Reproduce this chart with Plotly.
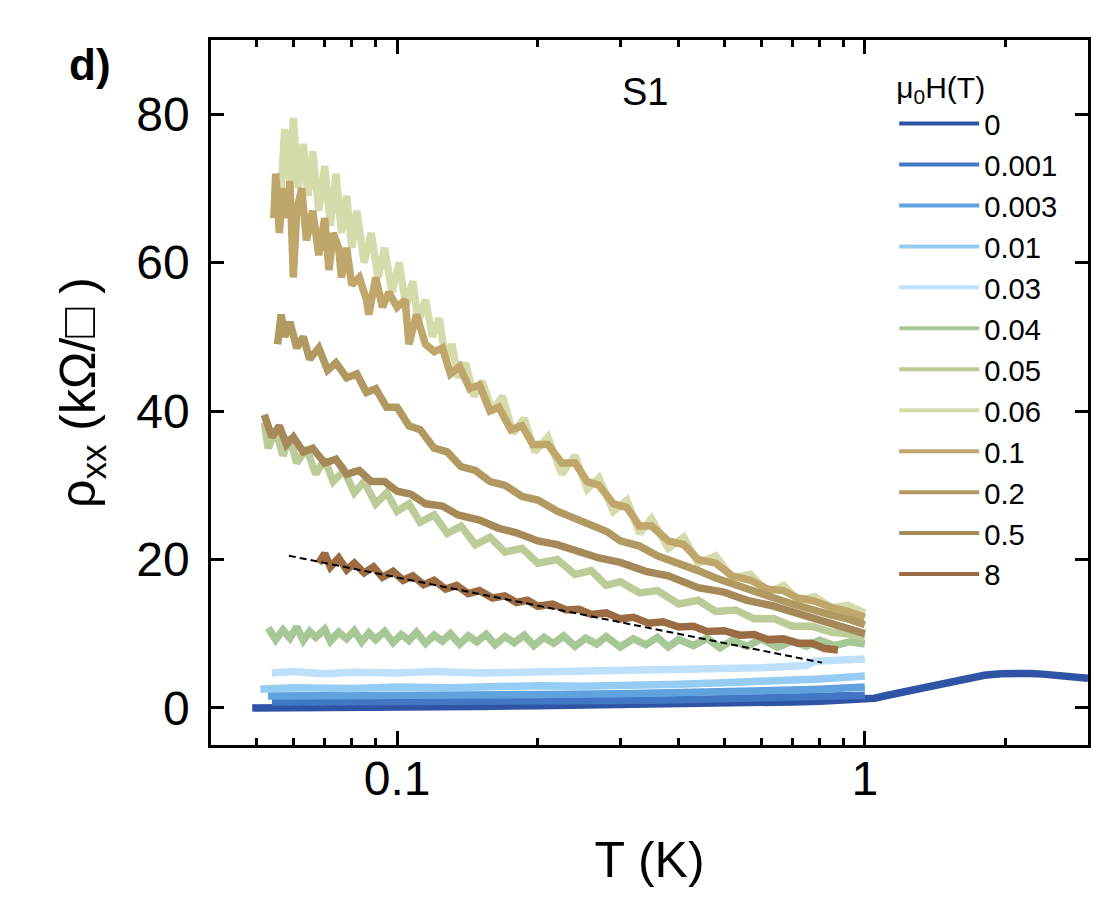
import numpy as np
import plotly.graph_objects as go

# field values (legend) and colours
fields = ["0", "0.001", "0.003", "0.01", "0.03", "0.04", "0.05", "0.06", "0.1", "0.2", "0.5", "8"]
colors = ["#2f54a5", "#4277c5", "#5fa2de", "#94ccf4", "#bfe0fb", "#a8c796",
          "#bccc98", "#d6dbab", "#bfa76b", "#b09a62", "#a58958", "#9b6b44"]

# temperature (K) and rho_xx (kOhm/sq)
T_0 = [0.049, 0.06, 0.08, 0.1, 0.15, 0.2, 0.3, 0.4, 0.5, 0.6, 0.7, 0.8, 0.9, 1.0,
       1.05, 1.1, 1.2, 1.3, 1.4, 1.5, 1.65, 1.8, 1.95, 2.1, 2.25, 2.4, 2.6, 2.8, 3.0]
rho_0 = [0.0, 0.0, 0.05, 0.1, 0.2, 0.3, 0.4, 0.5, 0.6, 0.7, 0.8, 0.9, 1.0, 1.1,
         1.3, 1.6, 2.1, 2.6, 3.1, 3.5, 4.0, 4.4, 4.6, 4.7, 4.65, 4.55, 4.4, 4.2, 4.0]

T_0001 = [0.054, 0.07, 0.1, 0.15, 0.2, 0.3, 0.4, 0.5, 0.6, 0.7, 0.8, 0.9, 1.0]
rho_0001 = [0.8, 0.8, 0.8, 0.85, 0.9, 1.0, 1.1, 1.2, 1.3, 1.4, 1.5, 1.6, 1.7]

T_0003 = [0.053, 0.07, 0.1, 0.15, 0.2, 0.3, 0.4, 0.5, 0.6, 0.7, 0.8, 0.9, 1.0]
rho_0003 = [1.6, 1.6, 1.7, 1.7, 1.8, 1.9, 2.0, 2.2, 2.3, 2.4, 2.5, 2.6, 2.8]

T_001 = [0.051, 0.06, 0.08, 0.1, 0.13, 0.17, 0.2, 0.25, 0.3, 0.4, 0.5, 0.6, 0.7, 0.8, 0.9, 1.0]
rho_001 = [2.5, 2.7, 2.6, 2.8, 2.7, 2.9, 3.0, 2.9, 3.1, 3.2, 3.4, 3.5, 3.7, 3.9, 4.1, 4.3]

T_003 = [0.054, 0.06, 0.07, 0.08, 0.1, 0.12, 0.15, 0.2, 0.25, 0.3, 0.4, 0.5, 0.6,
         0.7, 0.75, 0.78, 0.85, 0.9, 1.0]
rho_003 = [4.7, 4.9, 4.6, 4.8, 4.7, 4.9, 4.7, 4.8, 4.9, 5.0, 5.1, 5.3, 5.4,
           5.6, 5.7, 6.3, 6.4, 6.5, 6.6]

T_004 = [0.053, 0.055, 0.057, 0.059, 0.061, 0.063, 0.065, 0.067, 0.07, 0.072,
         0.075, 0.078, 0.081, 0.084, 0.087, 0.09, 0.094, 0.098, 0.102, 0.106,
         0.11, 0.115, 0.12, 0.125, 0.13, 0.136, 0.142, 0.148, 0.155, 0.162,
         0.17, 0.178, 0.187, 0.196, 0.206, 0.216, 0.227, 0.24, 0.253, 0.267,
         0.28, 0.3, 0.32, 0.34, 0.36, 0.38, 0.4, 0.43, 0.46, 0.49,
         0.52, 0.56, 0.6, 0.65, 0.7, 0.75, 0.8, 0.86, 0.93, 1.0]
rho_004 = [10.8, 9.2, 10.5, 9.4, 10.9, 9.1, 10.3, 9.5, 10.6, 9.0,
           10.2, 9.3, 10.4, 8.9, 10.1, 9.2, 10.3, 8.8, 9.9, 9.1,
           10.2, 8.7, 9.8, 9.0, 10.0, 8.6, 9.7, 8.9, 9.9, 8.5,
           9.6, 8.8, 9.8, 8.4, 9.5, 8.7, 9.7, 8.3, 9.4, 8.6,
           9.6, 8.2, 9.3, 8.5, 9.5, 8.2, 9.2, 8.4, 9.4, 8.1,
           9.1, 8.3, 9.3, 8.2, 9.0, 8.3, 9.1, 8.4, 8.9, 8.6]

T_005 = [0.052, 0.053, 0.055, 0.057, 0.059, 0.061, 0.064, 0.067, 0.07, 0.073, 0.077,
         0.081, 0.085, 0.09, 0.095, 0.1, 0.106, 0.112, 0.12, 0.128, 0.137, 0.147,
         0.158, 0.17, 0.185, 0.2, 0.22, 0.24, 0.26, 0.28, 0.3, 0.33, 0.36, 0.4,
         0.44, 0.48, 0.53, 0.58, 0.64, 0.7, 0.77, 0.85, 0.92, 1.0]
rho_005 = [38.5, 35, 37.5, 34, 36.5, 33, 35, 31.5, 33.5, 30.5, 32,
           29, 30.5, 27.5, 29, 26.5, 27.5, 25, 26, 23.5, 24.5, 22,
           23, 21, 21.5, 19.5, 20, 18, 18.5, 16.5, 17, 15.5, 15.8, 14,
           14.5, 13, 13.2, 12, 12, 11, 11, 10.2, 10, 9.5]

T_006 = [0.0565, 0.0575, 0.059, 0.06, 0.0615, 0.063, 0.0645, 0.066, 0.068, 0.07,
         0.072, 0.074, 0.076, 0.078, 0.08, 0.082, 0.085, 0.088, 0.091, 0.094,
         0.0975, 0.101, 0.1045, 0.108, 0.111, 0.115, 0.119, 0.123, 0.127, 0.131,
         0.135, 0.14, 0.146, 0.152, 0.16, 0.168, 0.177, 0.187, 0.197, 0.21,
         0.225, 0.24, 0.255, 0.27, 0.29, 0.31, 0.33, 0.35, 0.38, 0.41,
         0.44, 0.48, 0.52, 0.57, 0.62, 0.67, 0.72, 0.78, 0.85, 0.92, 1.0]
rho_006 = [70, 78, 71, 79.5, 70, 76, 69, 75, 67, 73,
           65, 72, 64, 69, 62, 67, 60, 64, 58, 62,
           56, 60, 54, 57.5, 52, 55, 50, 52.5, 47, 49,
           44.5, 46.5, 42, 44, 40, 42, 37, 39, 34.5, 36.5,
           31.5, 34, 29.5, 31, 26.5, 28, 23.5, 25.5, 21.5, 23,
           19.5, 20.5, 17.5, 18, 15.5, 16.5, 14.5, 15, 13.5, 13.8, 12.8]

T_01 = [0.0545, 0.055, 0.056, 0.057, 0.058, 0.059, 0.06, 0.061, 0.0625, 0.064,
        0.066, 0.068, 0.07, 0.0715, 0.073, 0.075, 0.076, 0.078, 0.08, 0.083,
        0.086, 0.087, 0.09, 0.093, 0.096, 0.1, 0.104, 0.106, 0.11, 0.115,
        0.12, 0.125, 0.13, 0.136, 0.143, 0.15, 0.158, 0.165, 0.175, 0.185,
        0.195, 0.21, 0.225, 0.24, 0.255, 0.27, 0.29, 0.31, 0.33, 0.35,
        0.38, 0.41, 0.44, 0.48, 0.52, 0.57, 0.62, 0.67, 0.72, 0.78, 0.85, 0.92, 1.0]
rho_01 = [66, 72, 64, 70, 66, 71, 58, 67, 70, 63,
          67, 61, 66, 59, 64, 62, 58, 62, 57, 58,
          55, 53, 58, 54, 56, 54, 55, 49, 53, 49,
          48, 48.5, 45, 46, 43, 43.5, 40, 40.5, 37.5, 38,
          35.5, 35.5, 33, 33, 30.5, 30, 27.5, 27, 24.5, 24.5,
          22.5, 22, 20, 19.5, 17.8, 17.2, 16, 15.8, 14.8, 14.4, 13.5, 13, 12.2]

T_02 = [0.0555, 0.0565, 0.0575, 0.059, 0.061, 0.063, 0.065, 0.068, 0.071, 0.074,
        0.078, 0.082, 0.086, 0.09, 0.095, 0.1, 0.106, 0.112, 0.12, 0.128,
        0.137, 0.147, 0.158, 0.17, 0.185, 0.2, 0.22, 0.24, 0.26, 0.28,
        0.3, 0.33, 0.36, 0.4, 0.44, 0.48, 0.53, 0.58, 0.64, 0.7, 0.77, 0.85, 0.92, 1.0]
rho_02 = [49, 53, 50, 52, 48.5, 50, 47, 48.5, 45.5, 46.5,
          44.5, 45, 42.5, 43, 40.5, 40.5, 38, 37.5, 35, 34.5,
          32.5, 32, 30.5, 30, 28.5, 28, 26.5, 25.5, 24.5, 23.8,
          22.5, 21.8, 20.5, 19.5, 18.5, 17.5, 16.5, 15.8, 14.8, 14.0, 13.2, 12.5, 12.0, 11.2]

T_05 = [0.052, 0.054, 0.056, 0.058, 0.06, 0.063, 0.066, 0.07, 0.074, 0.078,
        0.083, 0.088, 0.094, 0.1, 0.107, 0.115, 0.125, 0.135, 0.15, 0.165,
        0.18, 0.2, 0.22, 0.25, 0.27, 0.3, 0.34, 0.38, 0.44, 0.5,
        0.56, 0.63, 0.72, 0.8, 0.9, 1.0]
rho_05 = [39.5, 36.5, 38, 35.5, 36.5, 34.5, 35, 33, 33.5, 31.5,
          32, 30.5, 30.5, 29.2, 28.8, 27.5, 27.2, 26, 25.3, 24.2,
          23.6, 22.5, 22, 20.8, 20.2, 19.6, 18.4, 17.8, 16.2, 15.6,
          14.5, 13.8, 12.7, 12.0, 11, 10]

T_8 = [0.068, 0.07, 0.072, 0.075, 0.078, 0.081, 0.085, 0.089, 0.093, 0.098,
       0.103, 0.108, 0.114, 0.12, 0.127, 0.134, 0.142, 0.15, 0.16, 0.17,
       0.18, 0.19, 0.2, 0.215, 0.23, 0.245, 0.26, 0.28, 0.3, 0.32,
       0.345, 0.37, 0.4, 0.43, 0.46, 0.5, 0.54, 0.58, 0.62, 0.67,
       0.72, 0.77, 0.82, 0.876]
rho_8 = [19.5, 20.8, 19, 20.2, 18.6, 19.5, 18.2, 19, 17.6, 18.4,
         17.2, 17.8, 16.6, 17.2, 16, 16.5, 15.4, 15.8, 14.8, 15.1,
         14.2, 14.5, 13.7, 14, 13.2, 13.3, 12.6, 12.8, 12, 12.2,
         11.4, 11.6, 10.9, 11, 10.3, 10.4, 9.8, 9.9, 9.2, 9.3,
         8.7, 8.7, 8.0, 7.8]

# log fit for 8 T
fit_T = [0.0587, 0.81]
fit_rho = [20.5, 6.1]

curves = [(T_0, rho_0), (T_0001, rho_0001), (T_0003, rho_0003), (T_001, rho_001),
          (T_003, rho_003), (T_004, rho_004), (T_005, rho_005), (T_006, rho_006),
          (T_01, rho_01), (T_02, rho_02), (T_05, rho_05), (T_8, rho_8)]

FONT = "Liberation Sans, Arial, Helvetica, sans-serif"

fig = go.Figure()

for (t, r), c in zip(curves, colors):
    fig.add_trace(go.Scatter(x=t, y=r, mode="lines", line=dict(color=c, width=7.5),
                             showlegend=False, hoverinfo="skip"))

fig.add_trace(go.Scatter(x=fit_T, y=fit_rho, mode="lines",
                         line=dict(color="black", width=2, dash="7px,4px"),
                         showlegend=False))

# thinner lines for the legend
for name, c in zip(fields, colors):
    fig.add_trace(go.Scatter(x=[None], y=[None], mode="lines", name=name,
                             line=dict(color=c, width=4)))

axis_common = dict(
    showline=True, linewidth=2.5, linecolor="black", mirror="ticks",
    ticks="inside", tickwidth=2.5, tickcolor="black",
    showgrid=False, zeroline=False,
    tickfont=dict(family=FONT, size=48, color="black"),
)

fig.update_xaxes(
    type="log", range=[np.log10(0.04), np.log10(3)],
    tickvals=[0.1, 1], ticktext=["0.1", "1"], ticklen=14,
    ticklabelstandoff=-10,
    minor=dict(tickvals=[0.05, 0.06, 0.07, 0.08, 0.09, 0.2, 0.3, 0.4, 0.5,
                         0.6, 0.7, 0.8, 0.9, 2],
               ticks="inside", ticklen=7, tickwidth=2.5, tickcolor="black",
               showgrid=False),
    title=dict(text="T (K)", font=dict(family=FONT, size=50, color="black"), standoff=38),
    **axis_common
)

fig.update_yaxes(
    range=[-5, 90], tickvals=[0, 20, 40, 60, 80], ticklen=13,
    ticklabelstandoff=9,
    title=dict(text="ρ<sub>xx</sub> (kΩ/□ )", font=dict(family=FONT, size=50, color="black"),
               standoff=25),
    **axis_common
)

fig.add_annotation(text="<b>d)</b>", xref="paper", yref="paper", x=-0.138, y=0.965,
                   xanchor="center", yanchor="middle",
                   showarrow=False, font=dict(family=FONT, size=44, color="black"))
fig.add_annotation(text="S1", xref="paper", yref="paper", x=0.495, y=0.926,
                   xanchor="center", yanchor="middle",
                   showarrow=False, font=dict(family=FONT, size=38, color="black"))

# the page adds an 8px body margin, so the figure is a bit smaller than the window
fig.update_layout(
    width=1102, height=907,
    margin=dict(l=203, r=22, t=32, b=170),
    plot_bgcolor="white", paper_bgcolor="white",
    showlegend=True,
    legend=dict(
        x=0.779, y=0.973, xanchor="left", yanchor="top",
        bgcolor="rgba(0,0,0,0)", borderwidth=0,
        itemwidth=80, tracegroupgap=0,
        font=dict(family=FONT, size=29.2, color="black"),
        title=dict(text="μ<sub>0</sub>H(T)", font=dict(family=FONT, size=30, color="black")),
    ),
)

fig.write_html("out.html")
